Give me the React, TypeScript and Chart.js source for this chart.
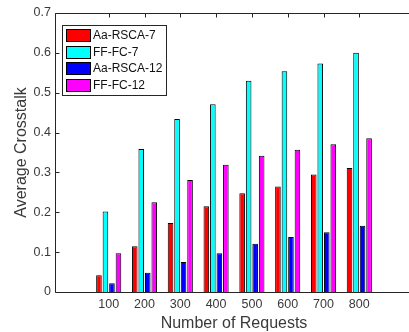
import React, { useEffect, useRef } from 'react';
import { Chart, registerables } from 'chart.js';

Chart.register(...registerables);

const requests = [100, 200, 300, 400, 500, 600, 700, 800];
const aaRsca7 = [0.042, 0.115, 0.173, 0.215, 0.248, 0.265, 0.295, 0.311];
const ffFc7 = [0.202, 0.359, 0.434, 0.471, 0.530, 0.554, 0.573, 0.600];
const aaRsca12 = [0.022, 0.048, 0.075, 0.097, 0.121, 0.138, 0.150, 0.166];
const ffFc12 = [0.097, 0.225, 0.281, 0.319, 0.342, 0.357, 0.371, 0.386];
const seriesLabels = ['Aa-RSCA-7', 'FF-FC-7', 'Aa-RSCA-12', 'FF-FC-12'];
const seriesColors = ['#ff0000', '#00ffff', '#0000ff', '#ff00ff'];
const seriesValues = [aaRsca7, ffFc7, aaRsca12, ffFc12];

const FONT = '"Liberation Sans", Arial, Helvetica, sans-serif';
const AXIS_COLOR = '#262626';
const TEXT_COLOR = '#3a3a3a';

const axesBox = {
  id: 'axesBox',
  afterDatasetsDraw(chart: any) {
    const { ctx, chartArea, scales } = chart;
    const { left, top, right, bottom } = chartArea;
    const x = scales.x;
    const y = scales.y;
    ctx.save();
    ctx.strokeStyle = AXIS_COLOR;
    ctx.lineWidth = 1;
    ctx.beginPath();
    const L = Math.round(left) + 0.5;
    const T = Math.round(top) + 0.5;
    const B = Math.round(bottom) + 0.5;
    ctx.moveTo(right, T);
    ctx.lineTo(L, T);
    ctx.lineTo(L, B);
    ctx.lineTo(right, B);
    y.ticks.forEach((t: any) => {
      const py = Math.round(y.getPixelForValue(t.value)) + 0.5;
      ctx.moveTo(L, py);
      ctx.lineTo(L + 4, py);
    });
    requests.forEach((v) => {
      const px = Math.round(x.getPixelForValue(v)) + 0.5;
      ctx.moveTo(px, T);
      ctx.lineTo(px, T + 4);
    });
    ctx.stroke();

    // legend
    const lx = 62, ly = 25, lw = 104, lh = 70;
    ctx.fillStyle = '#ffffff';
    ctx.fillRect(lx, ly, lw, lh);
    ctx.strokeStyle = AXIS_COLOR;
    ctx.strokeRect(lx + 0.5, ly + 0.5, lw, lh);
    ctx.font = '12px ' + FONT;
    ctx.textBaseline = 'middle';
    ctx.textAlign = 'left';
    chart.data.datasets.forEach((ds: any, i: number) => {
      const sy = 29 + i * 16.6;
      ctx.fillStyle = ds.backgroundColor;
      ctx.fillRect(66.5, Math.round(sy) + 0.5, 24, 12);
      ctx.strokeStyle = '#000';
      ctx.strokeRect(66.5, Math.round(sy) + 0.5, 24, 12);
      ctx.fillStyle = '#111';
      ctx.fillText(ds.label, 93, Math.round(sy) + 7);
    });
    ctx.restore();
  },
};

export default function App() {
  const ref = useRef<HTMLCanvasElement>(null);
  useEffect(() => {
    if (!ref.current) return;
    const chart = new Chart(ref.current, {
      type: 'bar',
      data: {
        datasets: seriesLabels.map((label, i) => ({
          label,
          data: requests.map((r, j) => ({ x: r, y: seriesValues[i][j] })),
          backgroundColor: seriesColors[i],
          borderColor: '#000000',
          borderWidth: 1,
          categoryPercentage: 0.727,
          barPercentage: 0.86,
        })),
      },
      options: {
        responsive: false,
        animation: false,
        devicePixelRatio: 1,
        layout: { padding: { left: 0, top: 13, right: 7, bottom: 0 } },
        plugins: {
          legend: { display: false },
          tooltip: { enabled: false },
        },
        scales: {
          x: {
            type: 'linear',
            min: 0,
            max: 900,
            grid: { display: false, drawTicks: false },
            border: { display: false },
            ticks: {
              stepSize: 100,
              includeBounds: false,
              autoSkip: false,
              maxRotation: 0,
              padding: 5,
              color: TEXT_COLOR,
              font: { family: FONT, size: 12.5 },
              callback: (v: any) => (requests.includes(Number(v)) ? String(v) : ''),
            },
            title: {
              display: true,
              text: 'Number of Requests',
              color: TEXT_COLOR,
              font: { family: FONT, size: 16, lineHeight: 1 },
              padding: { top: 0, bottom: 0 },
            },
            afterFit: (s: any) => {
              s.height = 40;
            },
          },
          y: {
            min: 0,
            max: 0.7,
            grid: { display: false, drawTicks: false },
            border: { display: false },
            ticks: {
              stepSize: 0.1,
              padding: 4,
              color: TEXT_COLOR,
              font: { family: FONT, size: 12.5 },
              callback: (v: any) => (Number(v) === 0 ? '0' : Number(v).toFixed(1)),
            },
            title: {
              display: true,
              text: 'Average Crosstalk',
              color: TEXT_COLOR,
              font: { family: FONT, size: 16 },
              padding: { top: 12, bottom: 0 },
            },
            afterFit: (s: any) => {
              s.width = 55;
            },
          },
        },
      },
      plugins: [axesBox],
    } as any);
    return () => chart.destroy();
  }, []);
  return (
    <div
      style={{
        position: 'absolute',
        left: 0,
        top: 0,
        width: 409,
        height: 332,
        overflow: 'hidden',
        background: '#ffffff',
      }}
    >
      <canvas ref={ref} width={420} height={332} style={{ width: 420, height: 332, display: 'block' }} />
    </div>
  );
}
